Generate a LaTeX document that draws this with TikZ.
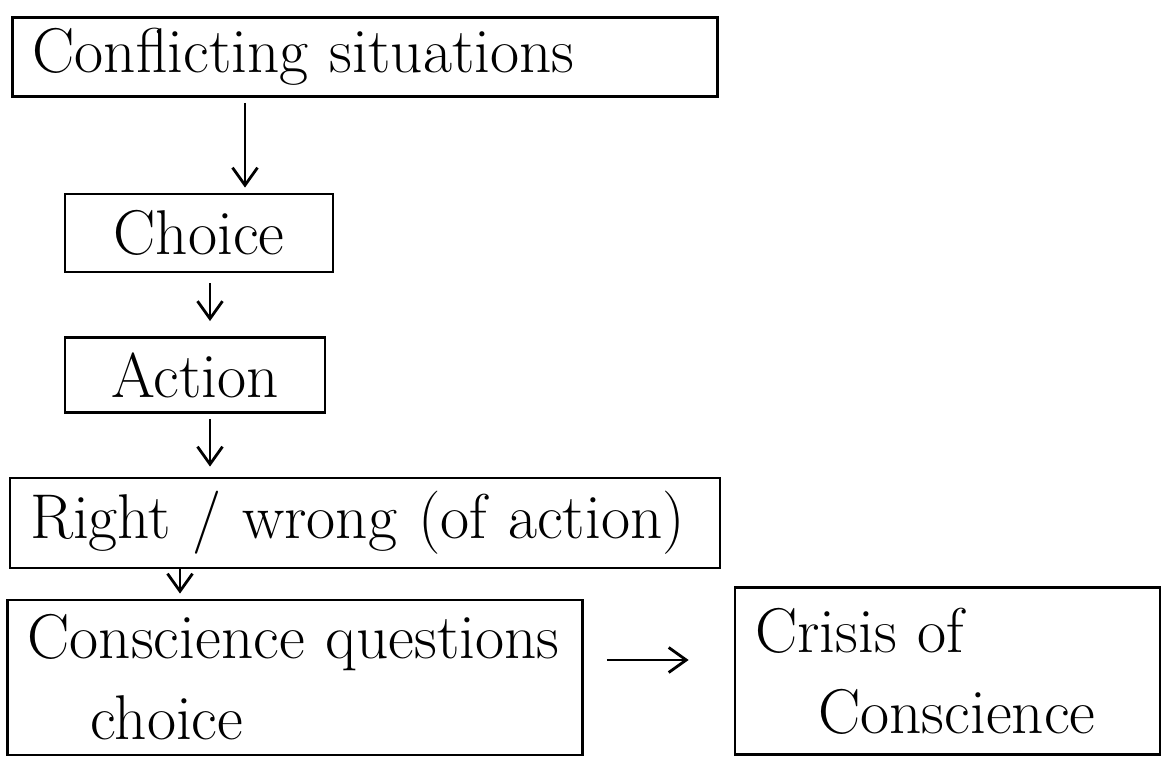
\documentclass[tikz,border=0pt]{standalone}
\usepackage{tikz}
\usetikzlibrary{arrows.meta}
\usetikzlibrary{positioning}

\tikzset{
  stagebox/.style={draw, line width=1.6pt, inner xsep=0.4cm, inner ysep=0pt,
    font=\fontsize{36}{46}\selectfont},
  flow/.style={line width=1.6pt,
    -{Straight Barb[length=3.5mm,width=5mm,line width=1.6pt]},
    shorten >=1mm, shorten <=1mm}
}

\begin{document}
\begin{tikzpicture}
  \useasboundingbox (0,0) rectangle (23.24,15.24);

  \draw (7.30,14.10) node[stagebox, minimum height=1.58cm, text width=13.3cm, align=left] (conflict) {Conflicting situations};
  \draw (3.98,10.58) node[stagebox, minimum height=1.56cm, text width=4.56cm, align=center] (choice) {Choice};
  \draw (3.90,7.74)  node[stagebox, minimum height=1.50cm, text width=4.40cm, align=center] (action) {Action};
  \draw (7.30,4.78)  node[stagebox, minimum height=1.80cm, text width=13.4cm, align=left] (rightwrong) {Right / wrong (of action)};
  \draw (5.90,1.69)  node[stagebox, minimum height=3.10cm, text width=10.7cm, align=left] (conscience) {Conscience questions\\\quad choice};
  \draw (18.95,1.82) node[stagebox, minimum height=3.34cm, text width=7.7cm, align=left] (crisis) {Crisis of\\\quad Conscience};

  % arrow columns
  \coordinate (col1) at (4.90,0);
  \coordinate (col2) at (4.20,0);
  \coordinate (col3) at (3.60,0);

  \draw[flow] (conflict.south -| col1) -- (choice.north -| col1);
  \draw[flow, shorten <=2mm, shorten >=3mm] (choice.south -| col2) -- (action.north -| col2);
  \draw[flow, shorten >=2mm] (action.south -| col2) -- (rightwrong.north -| col2);
  \draw[flow, shorten <=0pt] (rightwrong.south -| col3) -- (conscience.north -| col3);
  \draw[flow, shorten <=4.6mm, shorten >=9mm] (conscience.east |- 0,2.04) -- (crisis.west |- 0,2.04);
\end{tikzpicture}
\end{document}
